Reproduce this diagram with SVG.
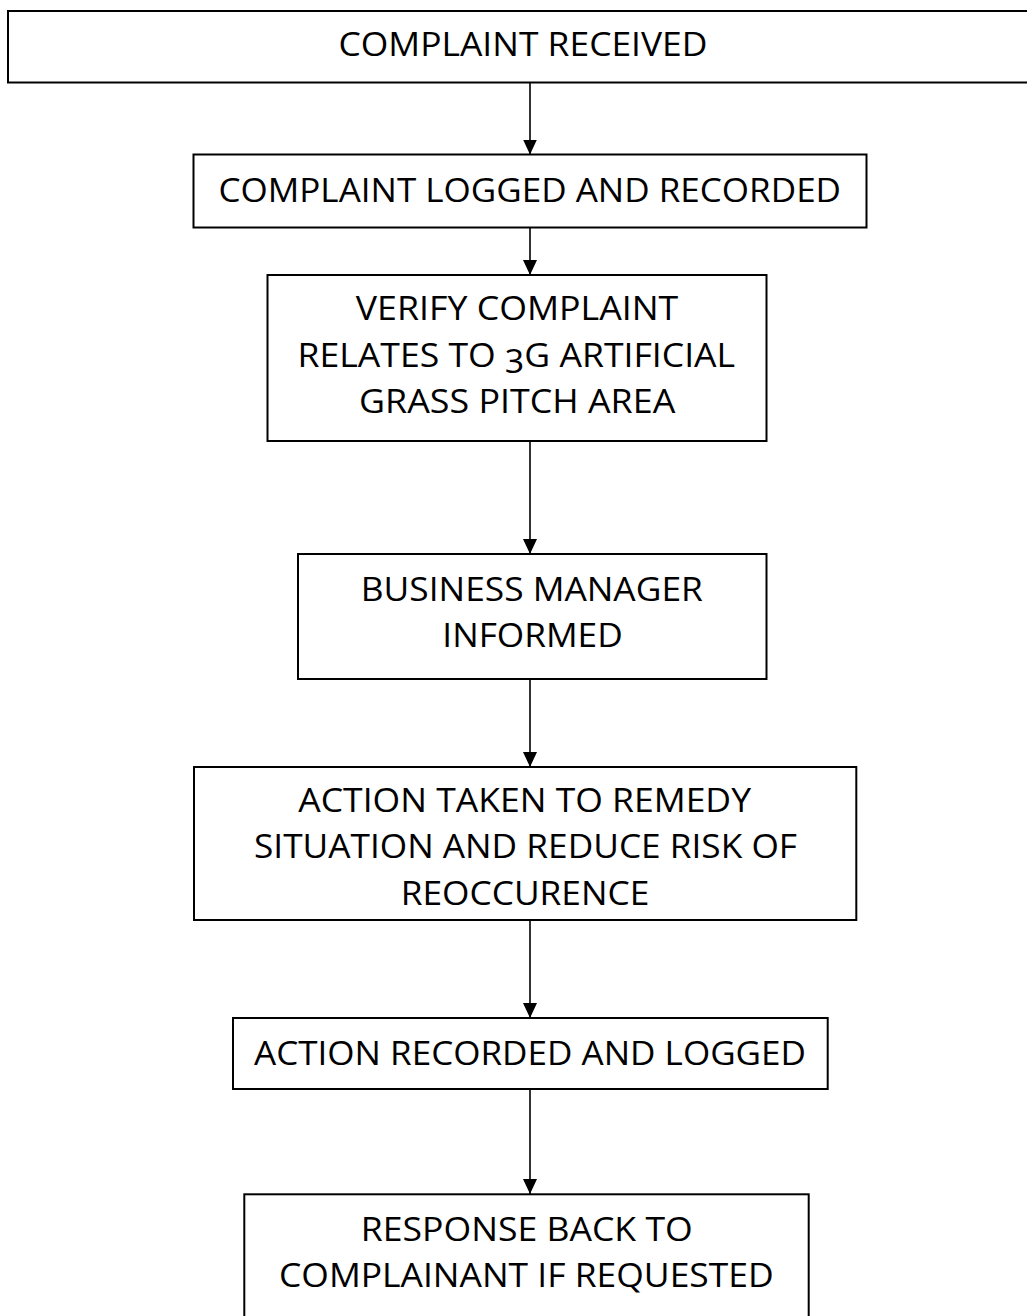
<svg xmlns="http://www.w3.org/2000/svg" width="1027" height="1316" viewBox="0 0 1027 1316">
<style>
  .box { fill: #ffffff; stroke: #000000; stroke-width: 2; }
  .lbl { font-family: "Open Sans", "Lato", "Liberation Sans", sans-serif; font-size: 32.5px; fill: #000000; font-variant-numeric: oldstyle-nums; }
  .conn { stroke: #000000; stroke-width: 1.6; fill: none; }
</style>
<defs>
  <marker id="arrow" viewBox="0 0 15 14" refX="15" refY="7" markerWidth="15" markerHeight="14" markerUnits="userSpaceOnUse" orient="auto">
    <path d="M0,0 L15,7 L0,14 Z" fill="#000000"/>
  </marker>
</defs>
<rect x="0" y="0" width="1027" height="1316" fill="#ffffff"/>

<g id="connectors">
  <line class="conn" x1="530" y1="82.5" x2="530" y2="154.5" marker-end="url(#arrow)"/>
  <line class="conn" x1="530" y1="227.5" x2="530" y2="275" marker-end="url(#arrow)"/>
  <line class="conn" x1="530" y1="441" x2="530" y2="554" marker-end="url(#arrow)"/>
  <line class="conn" x1="530" y1="679" x2="530" y2="767" marker-end="url(#arrow)"/>
  <line class="conn" x1="530" y1="920" x2="530" y2="1018" marker-end="url(#arrow)"/>
  <line class="conn" x1="530" y1="1089" x2="530" y2="1194" marker-end="url(#arrow)"/>
</g>

<g id="node-received">
  <rect class="box" x="8" y="11" width="1035" height="71.5"/>
  <text class="lbl" x="338.5" y="56" textLength="369" lengthAdjust="spacingAndGlyphs">COMPLAINT RECEIVED</text>
</g>

<g id="node-logged">
  <rect class="box" x="193.5" y="154.5" width="673" height="73"/>
  <text class="lbl" x="218.5" y="201.7" textLength="622.5" lengthAdjust="spacingAndGlyphs">COMPLAINT LOGGED AND RECORDED</text>
</g>

<g id="node-verify">
  <rect class="box" x="267.5" y="275" width="499" height="166"/>
  <text class="lbl" x="355.8" y="320" textLength="322.5" lengthAdjust="spacingAndGlyphs">VERIFY COMPLAINT</text>
  <text class="lbl" x="297.5" y="366.7" textLength="437.7" lengthAdjust="spacingAndGlyphs">RELATES TO 3G ARTIFICIAL</text>
  <text class="lbl" x="359" y="412.7" textLength="316.3" lengthAdjust="spacingAndGlyphs">GRASS PITCH AREA</text>
</g>

<g id="node-manager">
  <rect class="box" x="298" y="554" width="468.5" height="125"/>
  <text class="lbl" x="360.8" y="600.7" textLength="342" lengthAdjust="spacingAndGlyphs">BUSINESS MANAGER</text>
  <text class="lbl" x="442.3" y="646.7" textLength="180.4" lengthAdjust="spacingAndGlyphs">INFORMED</text>
</g>

<g id="node-action">
  <rect class="box" x="194" y="767" width="662.3" height="153"/>
  <text class="lbl" x="298.3" y="811.7" textLength="452.7" lengthAdjust="spacingAndGlyphs">ACTION TAKEN TO REMEDY</text>
  <text class="lbl" x="254" y="858.3" textLength="543" lengthAdjust="spacingAndGlyphs">SITUATION AND REDUCE RISK OF</text>
  <text class="lbl" x="400.7" y="905" textLength="248.6" lengthAdjust="spacingAndGlyphs">REOCCURENCE</text>
</g>

<g id="node-recorded">
  <rect class="box" x="233" y="1018" width="594.7" height="71"/>
  <text class="lbl" x="254" y="1065.3" textLength="552" lengthAdjust="spacingAndGlyphs">ACTION RECORDED AND LOGGED</text>
</g>

<g id="node-response">
  <rect class="box" x="244.3" y="1194.3" width="564.4" height="140"/>
  <text class="lbl" x="360.8" y="1241" textLength="331.9" lengthAdjust="spacingAndGlyphs">RESPONSE BACK TO</text>
  <text class="lbl" x="279" y="1286.7" textLength="494.7" lengthAdjust="spacingAndGlyphs">COMPLAINANT IF REQUESTED</text>
</g>
</svg>
